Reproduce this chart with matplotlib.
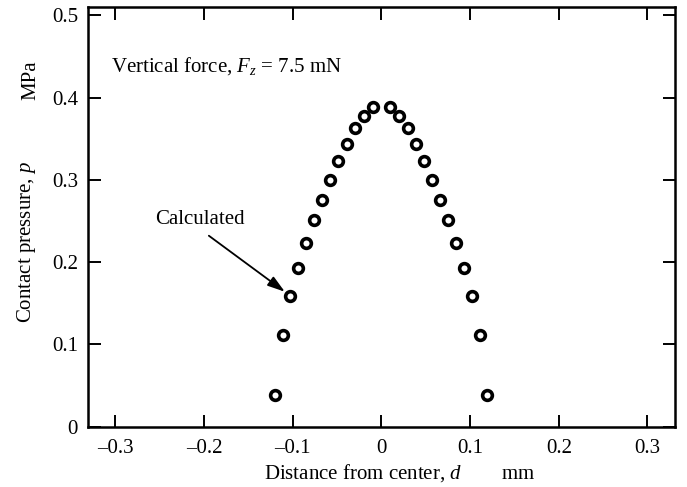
import numpy as np
import matplotlib
matplotlib.use('Agg')
import matplotlib.pyplot as plt

plt.rcParams['font.family'] = ['Liberation Serif', 'DejaVu Serif']
plt.rcParams['mathtext.fontset'] = 'custom'
plt.rcParams['mathtext.rm'] = 'Liberation Serif'
plt.rcParams['mathtext.it'] = 'Liberation Serif:italic'
plt.rcParams['font.size'] = 15

# half profile, mirrored about d = 0
d_half = [0.0095, 0.0195, 0.0295, 0.039, 0.0485, 0.0575, 0.0665,
          0.0755, 0.0845, 0.0935, 0.1025, 0.111, 0.1195]
p_half = [0.388, 0.378, 0.363, 0.344, 0.323, 0.300, 0.276,
          0.251, 0.223, 0.193, 0.159, 0.111, 0.038]

d = np.array([-x for x in d_half[::-1]] + d_half)
p = np.array(p_half[::-1] + p_half)

xticks = [-0.3, -0.2, -0.1, 0, 0.1, 0.2, 0.3]
yticks = [0, 0.1, 0.2, 0.3, 0.4, 0.5]
xticklabels = ['\u20130.3', '\u20130.2', '\u20130.1', '0', '0.1', '0.2', '0.3']
yticklabels = ['0', '0.1', '0.2', '0.3', '0.4', '0.5']

fig = plt.figure(figsize=(6.87, 4.87), dpi=100)
ax = fig.add_axes([0.1277, 0.1238, 0.8548, 0.8618])

ax.plot(d, p, 'o', ms=7.0, mew=2.6, mfc='white', mec='black', ls='none')

ax.set_xlim(-0.331, 0.331)
ax.set_ylim(0, 0.51)
ax.set_xticks(xticks)
ax.set_yticks(yticks)
ax.set_xticklabels(xticklabels)
ax.set_yticklabels(yticklabels)
ax.tick_params(direction='in', top=True, right=True, length=9, width=1.4, pad=7)
ax.tick_params(axis='x', pad=9)
for s in ax.spines.values():
    s.set_linewidth(1.8)

ax.text(-0.305, 0.432, 'Vertical force, $F_z$ = 7.5 mN', ha='left', va='baseline')

# pointer to one of the calculated points
ax.annotate('Calculated', xy=(d[2], p[2]), xytext=(-0.205, 0.252),
            ha='center', va='center',
            arrowprops=dict(arrowstyle='-|>,head_length=0.7,head_width=0.22',
                            color='black', lw=1.3, relpos=(0.5, 0),
                            shrinkA=5, shrinkB=5))

ax.set_xlabel('Distance from center, $d$        mm')
ax.xaxis.set_label_coords(0.532, -0.085)
ax.set_ylabel('Contact pressure, $p$')
ax.yaxis.set_label_coords(-0.085, 0.44)
fig.text(31 / 687, 1 - 80 / 487, 'MPa', rotation=90, ha='center', va='center')

fig.savefig('out.png', dpi=100)
